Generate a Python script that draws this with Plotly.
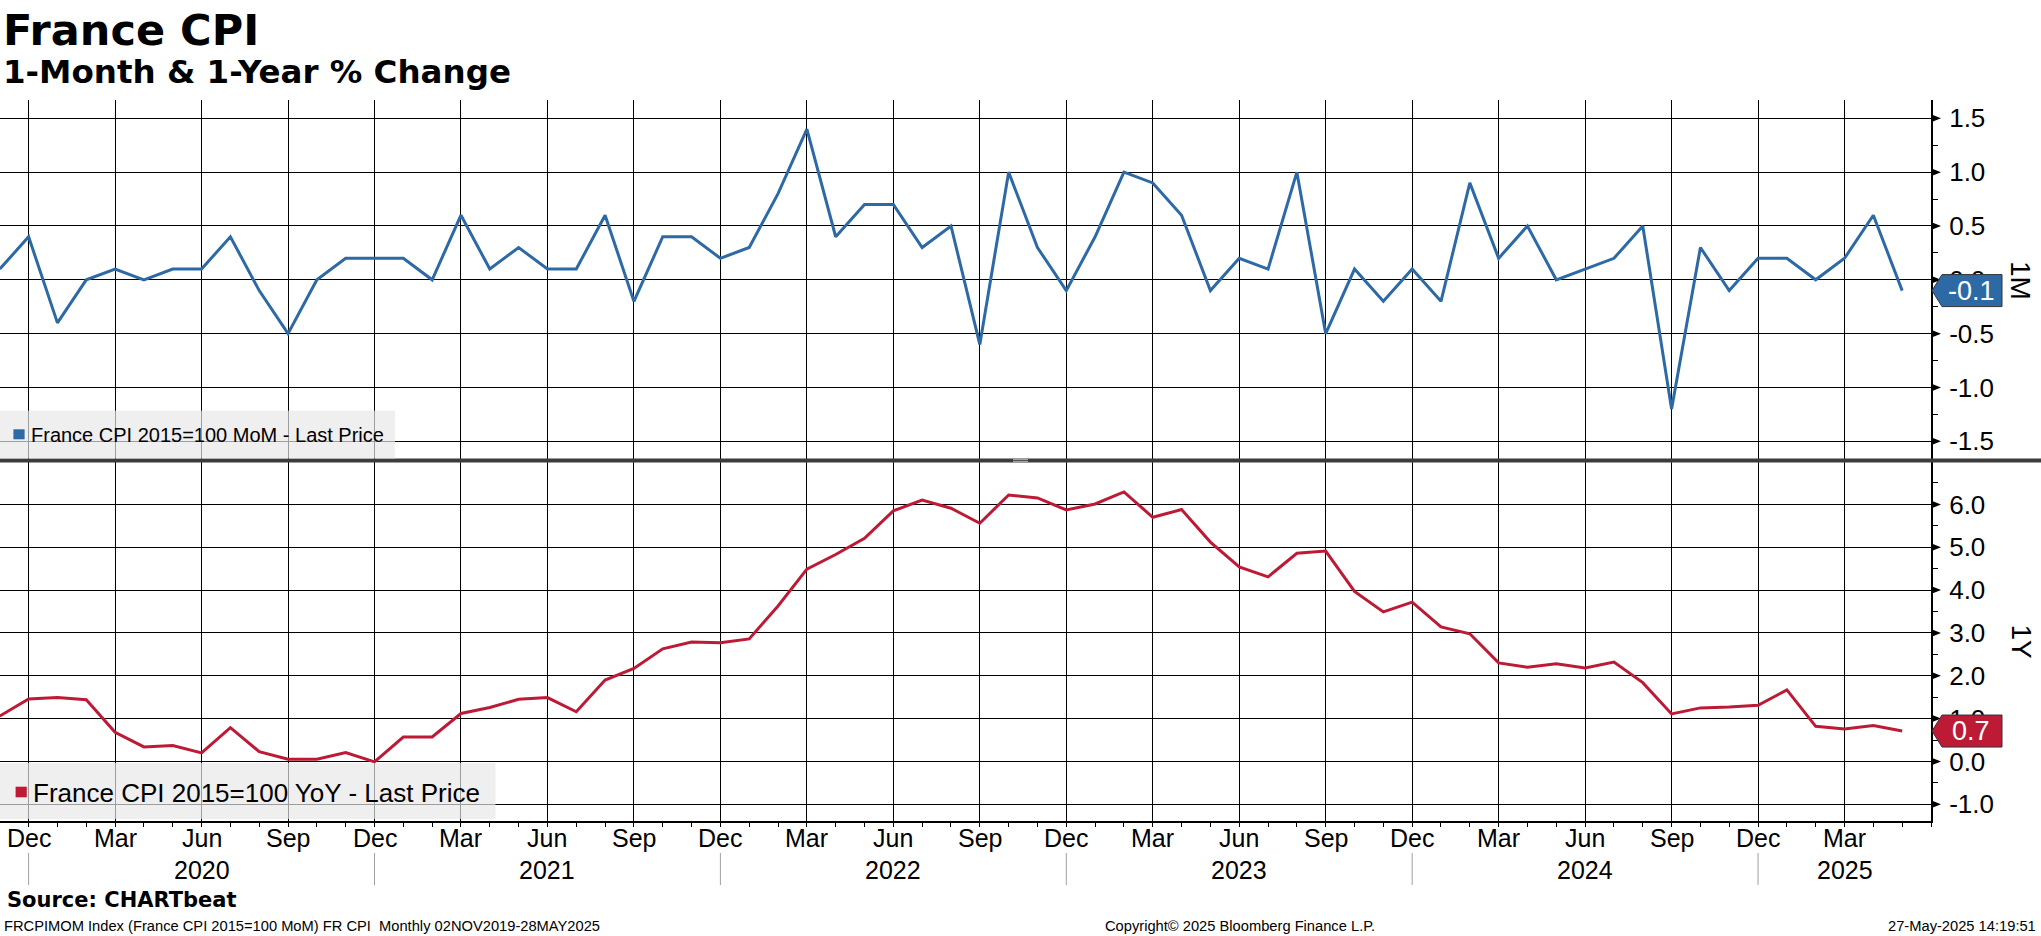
import plotly.graph_objects as go
import pandas as pd

# ---------------- data ----------------
months = pd.period_range("2019-11", "2025-05", freq="M")
mom = [0.1, 0.4, -0.4, 0.0, 0.1, 0.0, 0.1, 0.1, 0.4, -0.1, -0.5, 0.0, 0.2,
       0.2, 0.2, 0.0, 0.6, 0.1, 0.3, 0.1, 0.1, 0.6, -0.2, 0.4, 0.4,
       0.2, 0.3, 0.8, 1.4, 0.4, 0.7, 0.7, 0.3, 0.5, -0.6, 1.0, 0.3,
       -0.1, 0.4, 1.0, 0.9, 0.6, -0.1, 0.2, 0.1, 1.0, -0.5, 0.1, -0.2,
       0.1, -0.2, 0.9, 0.2, 0.5, 0.0, 0.1, 0.2, 0.5, -1.2, 0.3, -0.1,
       0.2, 0.2, 0.0, 0.2, 0.6, -0.1]
yoy = [1.06, 1.46, 1.49, 1.44, 0.68, 0.34, 0.37, 0.20, 0.79, 0.23, 0.05, 0.05, 0.21,
       -0.01, 0.57, 0.57, 1.12, 1.26, 1.45, 1.49, 1.16, 1.90, 2.17, 2.63, 2.79,
       2.77, 2.86, 3.63, 4.49, 4.83, 5.21, 5.85, 6.10, 5.91, 5.56, 6.22, 6.15,
       5.87, 6.01, 6.29, 5.70, 5.88, 5.12, 4.54, 4.31, 4.86, 4.91, 3.97, 3.49,
       3.72, 3.14, 2.98, 2.30, 2.20, 2.28, 2.18, 2.32, 1.84, 1.11, 1.25, 1.27,
       1.31, 1.67, 0.82, 0.76, 0.84, 0.71]
mom_name = "France CPI 2015=100 MoM - Last Price"
yoy_name = "France CPI 2015=100 YoY - Last Price"
top_ticks = [-1.5, -1.0, -0.5, 0.0, 0.5, 1.0, 1.5]
bot_ticks = [-1.0, 0.0, 1.0, 2.0, 3.0, 4.0, 5.0, 6.0]
title = "France CPI"
subtitle = "1-Month & 1-Year % Change"
source = "Source: CHARTbeat"
footer_left = "FRCPIMOM Index (France CPI 2015=100 MoM) FR CPI  Monthly 02NOV2019-28MAY2025"
footer_mid = "Copyright\u00a9 2025 Bloomberg Finance L.P."
footer_right = "27-May-2025 14:19:51"

BLUE = "#2d6aa5"
RED = "#bd1a35"

# ---------------- geometry ----------------
W, H = 2041, 936
PL, PR, PT, PB = 0, 1931, 100, 821
X_RANGE = [-0.993, 66.0]
TOP_RANGE = [-1.664, 1.670]
BOT_RANGE = [-1.39, 6.99]
TOP_PX = (100, 459)
BOT_PX = (462, 821)

base = pd.Period("2019-12", freq="M")
xi = [(m - base).n for m in months]
q_idx = [i for i, m in zip(xi, months) if m.month in (3, 6, 9, 12)]
q_txt = [m.strftime("%b") for m in months if m.month in (3, 6, 9, 12)]


def px_x(px):
    return (px - PL) / (PR - PL)


def px_y(py):
    return (PB - py) / (PB - PT)


def base_y(baseline, fs):
    """paper y of the middle of a text line whose baseline sits at pixel row `baseline`"""
    return px_y(baseline - 0.346 * fs)


TOP_DOM = [px_y(TOP_PX[1]), px_y(TOP_PX[0])]
BOT_DOM = [px_y(BOT_PX[1]), px_y(BOT_PX[0])]


def val_y(v, rng, dom):
    return dom[0] + (v - rng[0]) / (rng[1] - rng[0]) * (dom[1] - dom[0])


def idx_x(i):
    return (i - X_RANGE[0]) / (X_RANGE[1] - X_RANGE[0])


PXX = 1.0 / (PR - PL)
PXY = 1.0 / (PB - PT)

fig = go.Figure()
fig.add_trace(go.Scatter(x=xi, y=mom, xaxis="x2", yaxis="y2", mode="lines",
                         line=dict(color=BLUE, width=3), name=mom_name,
                         showlegend=False, hoverinfo="skip"))
fig.add_trace(go.Scatter(x=xi, y=yoy, xaxis="x", yaxis="y", mode="lines",
                         line=dict(color=RED, width=3), name=yoy_name,
                         showlegend=False, hoverinfo="skip"))

FONT = "Liberation Sans, Arial, sans-serif"
BOLD = "DejaVu Sans, Verdana, sans-serif"

common_x = dict(range=X_RANGE, tickvals=q_idx, ticktext=q_txt, showgrid=True,
                gridcolor="black", gridwidth=1, zeroline=False, domain=[0, 1],
                showticklabels=False)
fig.update_layout(
    xaxis=dict(**common_x, anchor="y", ticks="outside", ticklen=4, tickcolor="black",
               showline=True, linecolor="black", linewidth=1.5,
               minor=dict(dtick=1, tick0=0, ticks="outside", ticklen=4,
                          tickcolor="black", showgrid=False)),
    xaxis2=dict(**common_x, anchor="y2", matches="x", ticks=""),
    yaxis=dict(domain=BOT_DOM, range=BOT_RANGE, side="right", anchor="x",
               tickvals=bot_ticks, ticktext=[f"{v:.1f}" for v in bot_ticks],
               ticks="outside", ticklen=11, tickcolor="rgba(0,0,0,0)",
               showline=True, linecolor="black", linewidth=2,
               showgrid=True, gridcolor="black", gridwidth=1, zeroline=False,
               tickfont=dict(family=FONT, size=26, color="black"),
               minor=dict(dtick=0.5, tick0=0, ticks="outside", ticklen=5,
                          tickcolor="black", showgrid=False)),
    yaxis2=dict(domain=TOP_DOM, range=TOP_RANGE, side="right", anchor="x2",
                tickvals=top_ticks, ticktext=[f"{v:.1f}" for v in top_ticks],
                ticks="outside", ticklen=11, tickcolor="rgba(0,0,0,0)",
                showline=True, linecolor="black", linewidth=2,
                showgrid=True, gridcolor="black", gridwidth=1, zeroline=False,
                tickfont=dict(family=FONT, size=26, color="black"),
                minor=dict(dtick=0.25, tick0=0, ticks="outside", ticklen=5,
                           tickcolor="black", showgrid=False)),
    width=W, height=H,
    margin=dict(l=PL, r=W - PR, t=PT, b=H - PB, pad=0),
    paper_bgcolor="white", plot_bgcolor="white",
    showlegend=False,
)

shapes = []
annos = []

# major tick triangles
for ticks, rng, dom in ((top_ticks, TOP_RANGE, TOP_DOM), (bot_ticks, BOT_RANGE, BOT_DOM)):
    for v in ticks:
        yc = val_y(v, rng, dom)
        shapes.append(dict(type="path", xref="paper", yref="paper",
                           path=f"M 1,{yc + 4 * PXY} L {1 + 10 * PXX},{yc} L 1,{yc - 4 * PXY} Z",
                           fillcolor="black", line=dict(width=0), layer="above"))

# separator between panels
shapes.append(dict(type="rect", xref="paper", yref="paper", x0=0, x1=px_x(W),
                   y0=px_y(462.5), y1=px_y(458.5), fillcolor="#3c3c3c",
                   line=dict(width=0), layer="above"))
for yy in (459.6, 461.4):
    shapes.append(dict(type="line", xref="paper", yref="paper", x0=px_x(1013), x1=px_x(1028),
                       y0=px_y(yy), y1=px_y(yy), line=dict(color="#b0b0b0", width=1),
                       layer="above"))

# legend boxes
legends = [
    (mom_name, BLUE, (0, 395, 410.7, 458.5), (13.4, 24.6, 429.3, 439.3), 28.6, 441.7, 20),
    (yoy_name, RED, (0, 495.5, 763, 819), (15.6, 26.8, 786.7, 797.3), 31.3, 801.7, 26),
]
for name, col, box, sq, tx, tb, fs in legends:
    shapes.append(dict(type="rect", xref="paper", yref="paper", x0=px_x(box[0]), x1=px_x(box[1]),
                       y0=px_y(box[3]), y1=px_y(box[2]), fillcolor="rgba(232,232,232,0.68)",
                       line=dict(width=0), layer="above"))
    shapes.append(dict(type="rect", xref="paper", yref="paper", x0=px_x(sq[0]), x1=px_x(sq[1]),
                       y0=px_y(sq[3]), y1=px_y(sq[2]), fillcolor=col,
                       line=dict(width=0), layer="above"))
    annos.append(dict(text=name, xref="paper", yref="paper", x=px_x(tx), y=base_y(tb, fs),
                      xanchor="left", yanchor="middle", showarrow=False,
                      font=dict(family=FONT, size=fs, color="black")))

# last value tags
for series, col, rng, dom in ((mom, BLUE, TOP_RANGE, TOP_DOM), (yoy, RED, BOT_RANGE, BOT_DOM)):
    last = series[-1]
    yc = val_y(last, rng, dom)
    x0, x1, x2 = px_x(1932), px_x(1942), px_x(2002)
    hh = 16 * PXY
    shapes.append(dict(type="path", xref="paper", yref="paper",
                       path=f"M {x0},{yc} L {x1},{yc + hh} L {x2},{yc + hh} L {x2},{yc - hh} L {x1},{yc - hh} Z",
                       fillcolor=col, line=dict(color="#333333", width=1), layer="above"))
    annos.append(dict(text=f"{last:.1f}", xref="paper", yref="paper", x=px_x(1971), y=yc,
                      xanchor="center", yanchor="middle", showarrow=False,
                      font=dict(family=FONT, size=27, color="white")))

# axis titles
for txt, yc in (("1M", 280), ("1Y", 641.5)):
    annos.append(dict(text=txt, xref="paper", yref="paper", x=px_x(2021), y=px_y(yc),
                      xanchor="center", yanchor="middle", textangle=90, showarrow=False,
                      font=dict(family=FONT, size=28, color="black")))

# month labels
for i, t in zip(q_idx, q_txt):
    annos.append(dict(text=t, xref="x", yref="paper", x=i, y=base_y(847, 25),
                      xanchor="center", yanchor="middle", showarrow=False,
                      font=dict(family=FONT, size=25, color="black")))

# year labels and separators
years = sorted(set(m.year for m in months))
for yr in years:
    start = (pd.Period(f"{yr - 1}-12", freq="M") - base).n
    end = (pd.Period(f"{yr}-12", freq="M") - base).n
    lo, hi = max(start, X_RANGE[0]), min(end, X_RANGE[1])
    if hi - lo < 3:
        continue
    annos.append(dict(text=str(yr), xref="x", yref="paper", x=(lo + hi) / 2, y=base_y(879, 25),
                      xanchor="center", yanchor="middle", showarrow=False,
                      font=dict(family=FONT, size=25, color="black")))
    if start >= X_RANGE[0]:
        shapes.append(dict(type="line", xref="paper", yref="paper", x0=idx_x(start), x1=idx_x(start),
                           y0=px_y(853), y1=px_y(885), line=dict(color="#a0a0a0", width=1)))

# titles and footer
annos += [
    dict(text=f"<b>{title}</b>", xref="paper", yref="paper", x=px_x(1), y=base_y(45, 43),
         xanchor="left", yanchor="middle", showarrow=False,
         font=dict(family=BOLD, size=43, color="black")),
    dict(text=f"<b>{subtitle}</b>", xref="paper", yref="paper", x=px_x(1), y=base_y(83.3, 32.5),
         xanchor="left", yanchor="middle", showarrow=False,
         font=dict(family=BOLD, size=32.5, color="black")),
    dict(text=f"<b>{source}</b>", xref="paper", yref="paper", x=px_x(5), y=base_y(907, 21),
         xanchor="left", yanchor="middle", showarrow=False,
         font=dict(family=BOLD, size=21, color="black")),
    dict(text=footer_left, xref="paper", yref="paper", x=px_x(2), y=base_y(931, 14.7),
         xanchor="left", yanchor="middle", showarrow=False,
         font=dict(family=FONT, size=14.7, color="black")),
    dict(text=footer_mid, xref="paper", yref="paper", x=px_x(1240), y=base_y(931, 14.7),
         xanchor="center", yanchor="middle", showarrow=False,
         font=dict(family=FONT, size=14.7, color="black")),
    dict(text=footer_right, xref="paper", yref="paper", x=px_x(2038), y=base_y(931, 14.7),
         xanchor="right", yanchor="middle", showarrow=False,
         font=dict(family=FONT, size=14.7, color="black")),
]

fig.update_layout(shapes=shapes, annotations=annos)
fig.write_html("out.html", config={"displayModeBar": False},
               post_script="document.body.style.margin='0';document.body.style.padding='0';")
